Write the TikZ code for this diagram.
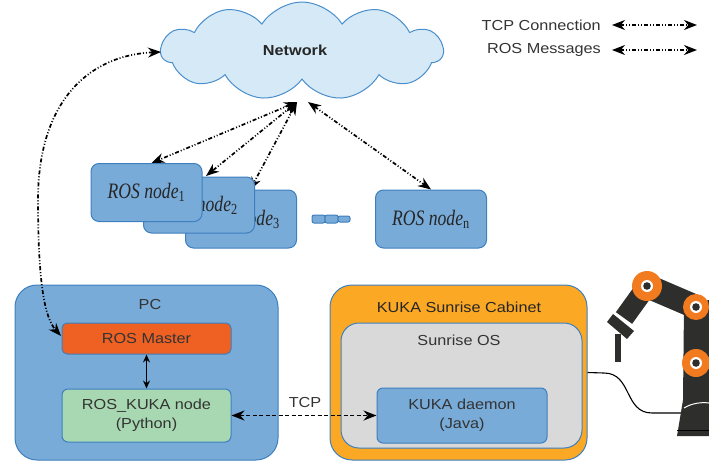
\documentclass[tikz,border=0pt]{standalone}
\usepackage{fontspec}
\setmainfont[FakeStretch=1.12]{Liberation Sans}
\newfontfamily\rosfont[FakeStretch=0.8]{Liberation Serif}
\usetikzlibrary{shapes.symbols,arrows.meta}

\definecolor{edgeblue}{HTML}{3D7FBF}
\definecolor{boxblue}{HTML}{78ABD8}
\definecolor{cloudfill}{HTML}{D5E9F7}
\definecolor{cloudedge}{HTML}{4A8FCB}
\definecolor{masterorange}{HTML}{EF6123}
\definecolor{nodegreen}{HTML}{A8D8B1}
\definecolor{cabinetorange}{HTML}{FBA824}
\definecolor{osgray}{HTML}{D9D9D9}
\definecolor{txt}{HTML}{333333}
\definecolor{armdark}{HTML}{2E2E2C}
\definecolor{jointorange}{HTML}{F27B1F}

\newcommand{\subidx}[1]{\textsubscript{\upshape #1}}

\tikzset{
  box/.style={rectangle, draw=edgeblue, line width=1pt, inner sep=0pt},
  rosnode/.style={box, fill=boxblue, rounded corners=8pt, minimum width=111pt,
    minimum height=58pt, font=\rosfont\itshape\fontsize{22}{24}\selectfont, text=black!85},
  label/.style={text=txt, inner sep=0pt},
  bigtip/.style={Stealth[length=13pt,width=10pt]},
  rosmsg/.style={line width=1.7pt, dash pattern=on 4pt off 2pt on 1pt off 2pt on 1pt off 2pt,
    {Stealth[length=13pt,width=10pt]}-{Stealth[length=13pt,width=10pt]}},
  tcplink/.style={line width=1.7pt, dash pattern=on 4pt off 2.5pt,
    {Stealth[length=13pt,width=10pt]}-{Stealth[length=13pt,width=10pt]}},
  joint/.style={fill=jointorange},
}

\begin{document}
\begin{tikzpicture}[x=1pt,y=-1pt, font=\fontsize{14.5}{16}\selectfont]
\useasboundingbox (0,0) rectangle (709,461);

% ---- network cloud ----
\node[cloud, cloud puffs=11, cloud puff arc=115, aspect=2.9, draw=cloudedge,
      fill=cloudfill, line width=1pt, minimum width=282pt, minimum height=98pt,
      inner sep=0pt] (net) at (302,51) {};
\node[font=\bfseries\fontsize{14.5}{16}\selectfont, text=black!85] (netlabel) at (295,50) {Network};

% ---- legend ----
\node[label, anchor=east] (legtcp) at (601,25) {TCP Connection};
\node[label, anchor=east] (legros) at (601,50) {ROS Messages};
\coordinate (tcpa) at (612,25); \coordinate (tcpb) at (697,25);
\coordinate (rosa) at (612,50); \coordinate (rosb) at (697,50);
\draw[rosmsg] (tcpa) -- (tcpb);
\draw[rosmsg] (rosa) -- (rosb);

% ---- anchor points on the cloud ----
\coordinate (netw) at (161,52);
\coordinate (netb1) at (297,102);
\coordinate (netb2) at (308,102);

% ---- ROS nodes (back to front) ----
\node[rosnode] (n3) at (241,219) {ROS node\subidx{3}};
\coordinate (n3top) at (250,190);
\draw[rosmsg] (netb1) -- (n3top);
\node[rosnode, minimum height=56pt] (n2) at (199,205) {ROS node\subidx{2}};
\coordinate (n2top) at (206,176);
\draw[rosmsg] (netb1) -- (n2top);
\node[rosnode] (n1) at (146.5,192.5) {ROS node\subidx{1}};
\draw[rosmsg] (netb1) -- ([xshift=5pt]n1.north);
\node[rosnode] (nn) at (431,219) {ROS node\subidx{n}};
\draw[rosmsg] (netb2) -- (nn.north);

% small dashes between node 3 and node n
\node[box, fill=boxblue, rounded corners=2pt, minimum width=13pt, minimum height=8pt] (d1) at (318.5,219) {};
\node[box, fill=boxblue, rounded corners=2pt, minimum width=13pt, minimum height=8pt] (d2) at (331.5,219) {};
\node[box, fill=boxblue, rounded corners=2pt, minimum width=12pt, minimum height=6pt] (d3) at (344,219) {};

% ---- PC ----
\node[box, fill=boxblue, rounded corners=22pt, minimum width=263pt, minimum height=175pt] (pc) at (146.5,372.5) {};
\node[label] (pclabel) at (150,305) {PC};
\node[box, fill=masterorange, rounded corners=5pt, minimum width=169pt, minimum height=31pt] (master) at (146.5,338.5) {};
\node[label] (masterlabel) at (master.center) {ROS Master};
\node[box, fill=nodegreen, rounded corners=6pt, minimum width=169pt, minimum height=53pt,
      align=center, text=txt, font=\fontsize{14.5}{19}\selectfont] (kuka) at (146.5,415.5) {ROS\_KUKA node\\(Python)};
\draw[line width=1.3pt, {Stealth[length=8pt,width=7pt]}-{Stealth[length=8pt,width=7pt]}] (master.south) -- (kuka.north);

% ---- network to ROS master ----
\coordinate (mtip) at (61,336);
\draw[rosmsg] (netw) .. controls (90,55) and (38,100) .. (38,200)
      .. controls (38,285) and (45,318) .. (mtip);

% ---- KUKA cabinet ----
\node[box, fill=cabinetorange, rounded corners=22pt, minimum width=257pt, minimum height=175pt] (cab) at (458.5,372.5) {};
\node[label, text=black!85] (cablabel) at (459,307) {KUKA Sunrise Cabinet};
\node[box, fill=osgray, rounded corners=18pt, minimum width=241pt, minimum height=125pt] (os) at (461.5,385.5) {};
\node[label] (oslabel) at (459,340) {Sunrise OS};
\node[box, fill=boxblue, rounded corners=6pt, minimum width=170pt, minimum height=55pt,
      align=center, text=txt, font=\fontsize{14.5}{19}\selectfont] (daemon) at (462,415.5) {KUKA daemon\\(Java)};

% ---- TCP link ----
\draw[tcplink] (kuka.east) -- (daemon.west);
\node[label] (tcplabel) at (305,403) {TCP};

% ---- robot arm ----
\draw[line width=1.1pt] (cab.east) -- (604,373) .. controls (632,373) and (624,413) .. (652,413) -- (682,413);
% base and lower links
\fill[armdark] (684,306) -- (709,300) -- (709,436) -- (677,436) -- (679,424) -- (683,400) -- cycle;
\draw[white, line width=1pt] (684,408) .. controls (692,403) and (702,402) .. (709,403);
\draw[black, line width=1pt] (677,430) -- (709,430);
% upper arm and wrist
\draw[armdark, line width=24pt] (647,286) -- (696,307);
\draw[armdark, line width=20pt] (647,286) -- (624,318);
\fill[armdark] (607,322) -- (627,339) -- (634,331) -- (613,314) -- cycle;
\fill[armdark] (615,334) rectangle (621,362);
% joints
\foreach \jx/\jy/\jr in {647/286/15, 696/307/13, 696/363/14} {
  \fill[joint] (\jx,\jy) circle (\jr pt);
  \fill[white] (\jx,\jy) circle (6pt);
  \fill[armdark] (\jx,\jy) circle (3.8pt);
}
\end{tikzpicture}
\end{document}
